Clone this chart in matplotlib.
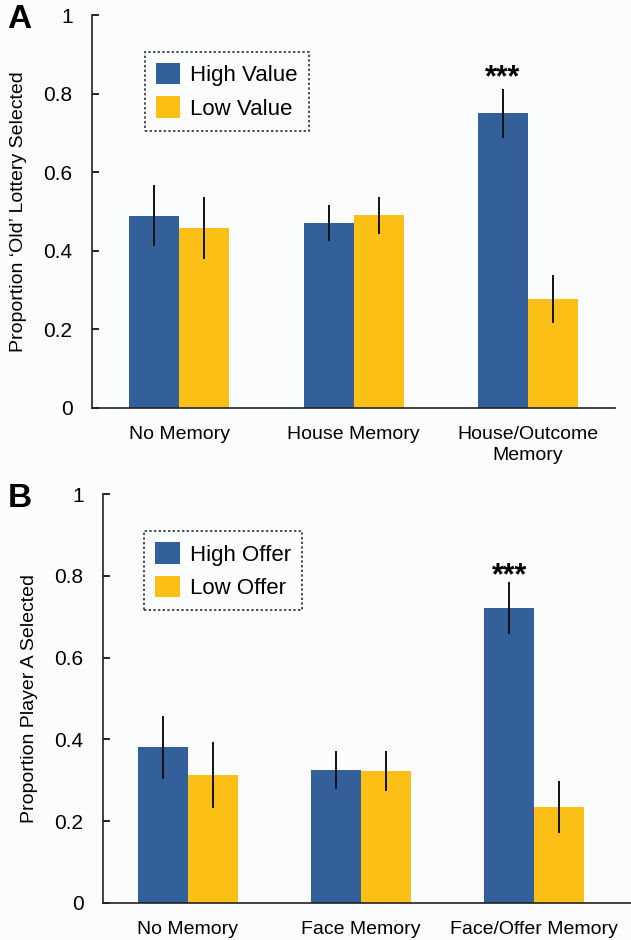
"""Memory bias bar chart, panels A and B
"""

import numpy as np
import matplotlib
matplotlib.use("Agg")
import matplotlib.pyplot as plt

plt.rcParams['font.family'] = ['Liberation Sans', 'DejaVu Sans']

# data
cats_a = ['No Memory', 'House Memory', 'House/Outcome\nMemory']
high_a = [0.489, 0.471, 0.750]
high_a_err = [0.078, 0.045, 0.062]
low_a = [0.458, 0.491, 0.277]
low_a_err = [0.080, 0.047, 0.062]

cats_b = ['No Memory', 'Face Memory', 'Face/Offer Memory']
high_b = [0.381, 0.325, 0.721]
high_b_err = [0.077, 0.046, 0.064]
low_b = [0.313, 0.323, 0.235]
low_b_err = [0.081, 0.048, 0.064]

yticks = [0, 0.2, 0.4, 0.6, 0.8, 1]
ytick_labels = ['0', '0.2', '0.4', '0.6', '0.8', '1']

blue = '#33609a'
yellow = '#fbbf16'
bg = '#fbfcfe'

fig = plt.figure(figsize=(6.31, 9.40), dpi=100, facecolor=bg)


def panel(rect, cats, high, high_err, low, low_err, names, ylabel, letter,
          xlim, star_y, leg_xy):
    ax = fig.add_axes(rect, facecolor=bg)
    x = np.arange(len(cats))
    w = 0.287
    ax.bar(x - w/2, high, w, color=blue, label=names[0], zorder=2)
    ax.bar(x + w/2, low, w, color=yellow, label=names[1], zorder=2)
    ax.errorbar(x - w/2, high, yerr=high_err, fmt='none', ecolor='#111111',
                elinewidth=1.4, capsize=0, zorder=3)
    ax.errorbar(x + w/2, low, yerr=low_err, fmt='none', ecolor='#111111',
                elinewidth=1.4, capsize=0, zorder=3)

    ax.set_xlim(*xlim)
    ax.set_ylim(0, 1)
    ax.set_yticks(yticks)
    ax.set_yticklabels(ytick_labels)
    ax.set_xticks(x)
    ax.set_xticklabels(cats, linespacing=1.3)
    ax.tick_params(axis='x', length=0, pad=13, labelsize=14)
    ax.tick_params(axis='y', direction='in', length=5, width=1.2, pad=14,
                   labelsize=15)
    ax.spines['top'].set_visible(False)
    ax.spines['right'].set_visible(False)
    ax.spines['left'].set_linewidth(1.2)
    ax.spines['bottom'].set_linewidth(1.2)
    ax.spines['left'].set_color('#222222')
    ax.spines['bottom'].set_color('#222222')
    ax.set_ylabel(ylabel, fontsize=14, labelpad=12)

    leg = ax.legend(loc='upper left', bbox_to_anchor=leg_xy,
                    fontsize=16, frameon=True, fancybox=False,
                    handlelength=1.1, handleheight=1.1, handletextpad=0.45,
                    borderpad=0.5, labelspacing=0.45, borderaxespad=0)
    frame = leg.get_frame()
    frame.set_edgecolor('#222222')
    frame.set_linestyle((0, (1.2, 1.2)))
    frame.set_linewidth(1.4)
    frame.set_facecolor(bg)

    ax.text(2 - w/2, star_y, '***', ha='center', va='center',
            fontsize=22, fontweight='bold')
    fig.text(0.012, rect[1] + rect[3] + 0.012, letter, fontsize=24,
             fontweight='bold', ha='left', va='top')
    return ax


panel([0.1458, 0.566, 0.829, 0.418], cats_a, high_a, high_a_err, low_a,
      low_a_err, ['High Value', 'Low Value'],
      'Proportion \u2018Old\u2019 Lottery Selected', 'A', (-0.5, 2.5), 0.84,
      (0.101, 0.906))

panel([0.1632, 0.0394, 0.837, 0.435], cats_b, high_b, high_b_err, low_b,
      low_b_err, ['High Offer', 'Low Offer'],
      'Proportion Player A Selected', 'B', (-0.49, 2.56), 0.80,
      (0.078, 0.909))

fig.savefig('out.png', dpi=100, facecolor=bg)
